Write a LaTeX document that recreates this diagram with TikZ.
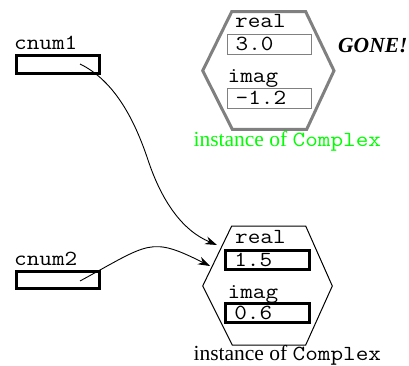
\documentclass[tikz,border=0pt]{standalone}
\usepackage{fontspec}
\setmainfont{Liberation Serif}
\setmonofont{Latin Modern Mono}[FakeStretch=1.14]
\usetikzlibrary{arrows.meta, positioning}

\begin{document}
\begin{tikzpicture}[x=1pt, y=-1pt, every node/.style={font=\fontsize{21.5}{25}\selectfont, inner sep=0pt}, slot/.style={draw, line width=3pt, minimum width=83pt, minimum height=18pt}, field/.style={draw, text width=66pt, inner xsep=9pt, align=left, minimum height=18.5pt}, ptr/.style={-{Stealth[length=12pt, width=8pt]}, line width=0.9pt}]
\useasboundingbox (0,0) rectangle (409,366);

% the two reference variables
\node[anchor=base west] (name1) at (14,50) {\texttt{cnum1}};
\node[slot] (var1) at (58,64.5) {};
\node[anchor=base west] (name2) at (14,265) {\texttt{cnum2}};
\node[slot, minimum height=17pt] (var2) at (58,280) {};

% old object, no longer referenced
\draw[gray, line width=3pt] (231.7,11.7) -- (305.7,11.7) -- (334,70.7) -- (306.7,129.3) -- (232.3,129.3) -- (202.7,70.7) -- cycle;
\node[anchor=base west] (oldre) at (235,28) {\texttt{real}};
\node[field, draw=gray, minimum height=20.5pt] (oldreval) at (268.7,44.2) {\texttt{3.0}};
\node[anchor=base west] (oldim) at (227.5,82.5) {\texttt{imag}};
\node[field, draw=gray, minimum height=20.5pt] (oldimval) at (268.7,98) {\texttt{-1.2}};
\node[anchor=base, green] (oldcap) at (287.3,146.5) {instance of \texttt{Complex}};
\node[anchor=base west] (gone) at (338,53) {\bfseries\itshape GONE!};

% object shared by both variables
\draw[line width=1pt] (231.7,226) -- (305.7,226) -- (332.3,286) -- (305.7,345) -- (232.3,345) -- (202.7,286) -- cycle;
\node[anchor=base west] (newre) at (235,243) {\texttt{real}};
\node[field, line width=3pt] (newreval) at (267.3,260) {\texttt{1.5}};
\node[anchor=base west] (newim) at (227.5,298) {\texttt{imag}};
\node[field, line width=3pt] (newimval) at (267.3,313) {\texttt{0.6}};
\node[anchor=base] (newcap) at (287.3,360) {instance of \texttt{Complex}};

% references
\coordinate (tail1) at (80,64);
\coordinate (bend1) at (148,160);
\coordinate (head1) at (217,245);
\coordinate (tail2) at (80,281);
\coordinate (head2) at (210,266);
\draw[ptr] (tail1) .. controls +(35,17) and +(-13,-39) .. (bend1) .. controls +(13,39) and +(-36,-15) .. (head1);
\draw[ptr] (tail2) .. controls +(70,-38) and +(-60,-30) .. (head2);

\end{tikzpicture}
\end{document}
